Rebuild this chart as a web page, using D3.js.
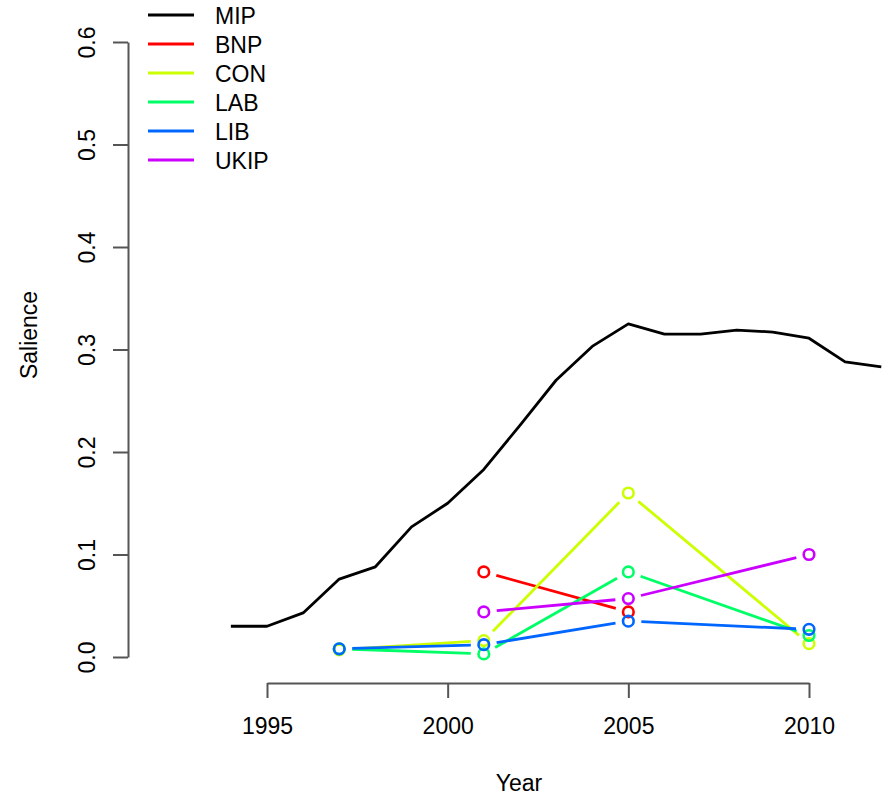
<!DOCTYPE html>
<html>
<head>
<meta charset="utf-8">
<script src="https://cdn.jsdelivr.net/npm/d3@7"></script>
<style>
  html, body { margin: 0; padding: 0; background: #fff; }
  svg { display: block; }
  text { font-family: "Liberation Sans", Arial, sans-serif; fill: #000; }
</style>
</head>
<body>
<svg id="chart" width="890" height="796"></svg>
<script>
// ---- data ----
const mipYears = [1994,1995,1996,1997,1998,1999,2000,2001,2002,2003,2004,2005,2006,2007,2008,2009,2010,2011,2012];
const mipValues = [0.030,0.030,0.043,0.076,0.088,0.127,0.150,0.183,0.226,0.270,0.303,0.325,0.315,0.315,0.319,0.317,0.311,0.288,0.283];

const partyNames = ["BNP","CON","LAB","LIB","UKIP"];
const partyColors = ["#FF0000","#CCFF00","#00FF66","#0066FF","#CC00FF"];
const bnpYears = [2001,2005];           const bnpValues = [0.083,0.044];
const conYears = [1997,2001,2005,2010]; const conValues = [0.007,0.016,0.160,0.013];
const labYears = [1997,2001,2005,2010]; const labValues = [0.008,0.003,0.083,0.021];
const libYears = [1997,2001,2005,2010]; const libValues = [0.008,0.012,0.035,0.027];
const ukipYears = [2001,2005,2010];     const ukipValues = [0.044,0.057,0.100];

const legendLabels = ["MIP","BNP","CON","LAB","LIB","UKIP"];
const legendColors = ["#000000"].concat(partyColors);
const xTicks = [1995,2000,2005,2010];
const yTicks = [0,0.1,0.2,0.3,0.4,0.5,0.6];

// ---- layout ----
const svg = d3.select("#chart");
const FONT = 23;
const x = d3.scaleLinear().domain([1995,2010]).range([267,809]);
const y = d3.scaleLinear().domain([0,0.6]).range([657,42]);
const axisColor = "#555";

// X axis
const xAxisG = svg.append("g").attr("transform","translate(0,683)")
  .call(d3.axisBottom(x).tickValues(xTicks).tickSize(15).tickSizeOuter(0).tickFormat(d3.format("d")));
xAxisG.select(".domain").attr("stroke",axisColor).attr("stroke-width",2);
xAxisG.selectAll(".tick line").attr("stroke",axisColor).attr("stroke-width",2);
xAxisG.selectAll(".tick text").attr("y",51).attr("dy",null)
  .style("font-size",FONT+"px").style("font-family","Liberation Sans, Arial, sans-serif").attr("fill","#000");

// Y axis
const yAxisG = svg.append("g").attr("transform","translate(128,0)")
  .call(d3.axisLeft(y).tickValues(yTicks).tickSize(15).tickSizeOuter(0).tickFormat(d3.format(".1f")));
yAxisG.select(".domain").attr("stroke",axisColor).attr("stroke-width",2);
yAxisG.selectAll(".tick line").attr("stroke",axisColor).attr("stroke-width",2);
yAxisG.selectAll(".tick text")
  .attr("x",null).attr("dy",null)
  .attr("transform","translate(-33.5,0) rotate(-90)")
  .attr("text-anchor","middle")
  .style("font-size",FONT+"px").style("font-family","Liberation Sans, Arial, sans-serif").attr("fill","#000");

// Axis titles
svg.append("text").attr("x",519).attr("y",791).attr("text-anchor","middle")
  .style("font-size",FONT+"px").text("Year");
svg.append("text").attr("transform","translate(37,335) rotate(-90)").attr("text-anchor","middle")
  .style("font-size",FONT+"px").text("Salience");

// MIP line
const line = d3.line().x(d => x(d[0])).y(d => y(d[1]));
svg.append("path").datum(d3.zip(mipYears, mipValues))
  .attr("d", line).attr("fill","none").attr("stroke","#000")
  .attr("stroke-width",2.8).attr("stroke-linejoin","round");

// Party series (type "b": points with gapped lines)
const partyData = [
  d3.zip(bnpYears,bnpValues),
  d3.zip(conYears,conValues),
  d3.zip(labYears,labValues),
  d3.zip(libYears,libValues),
  d3.zip(ukipYears,ukipValues)
];
const GAP = 13;
partyData.forEach((pts, i) => {
  const col = partyColors[i];
  const g = svg.append("g");
  for (let k = 0; k < pts.length - 1; k++) {
    const x0 = x(pts[k][0]), y0 = y(pts[k][1]);
    const x1 = x(pts[k+1][0]), y1 = y(pts[k+1][1]);
    const len = Math.hypot(x1-x0, y1-y0);
    if (len <= 2*GAP) continue;
    const ux = (x1-x0)/len, uy = (y1-y0)/len;
    g.append("line")
      .attr("x1", x0+ux*GAP).attr("y1", y0+uy*GAP)
      .attr("x2", x1-ux*GAP).attr("y2", y1-uy*GAP)
      .attr("stroke", col).attr("stroke-width", 2.8);
  }
  g.selectAll("circle").data(pts).join("circle")
    .attr("cx", d => x(d[0])).attr("cy", d => y(d[1])).attr("r", 5.3)
    .attr("fill","none").attr("stroke",col).attr("stroke-width",2.6);
});

// Legend
const lg = svg.append("g");
legendLabels.forEach((lab, i) => {
  const ry = 15 + i*29;
  lg.append("line").attr("x1",148).attr("x2",194).attr("y1",ry).attr("y2",ry)
    .attr("stroke",legendColors[i]).attr("stroke-width",2.8);
  lg.append("text").attr("x",215).attr("y",ry+8.5)
    .style("font-size",FONT+"px").text(lab);
});
</script>
</body>
</html>
